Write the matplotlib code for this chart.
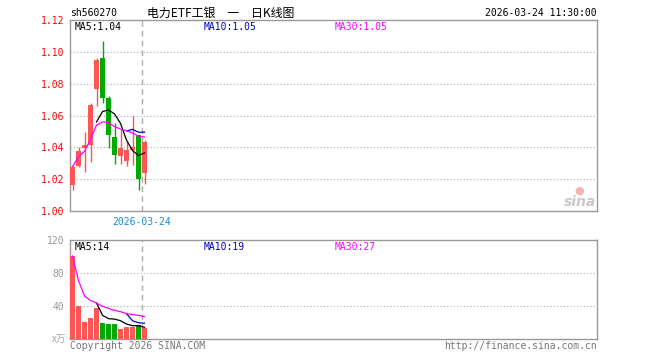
import matplotlib
matplotlib.use("Agg")
import matplotlib.pyplot as plt

# ================================
# Data
# ================================

CODE = "sh560270"
TITLE = "电力ETF工银　一　日K线图"
STAMP = "2026-03-24 11:30:00"
LAST_DATE = "2026-03-24"

opens = [1.0164, 1.0281, 1.0396, 1.0416, 1.0769, 1.0964, 1.0710, 1.0464, 1.0348, 1.0316, 1.0381, 1.0477, 1.0238]
closes = [1.0275, 1.0377, 1.0414, 1.0664, 1.0946, 1.0713, 1.0479, 1.0354, 1.0396, 1.0383, 1.0404, 1.0198, 1.0435]
highs = [1.0280, 1.0400, 1.0494, 1.0680, 1.0964, 1.1066, 1.0722, 1.0552, 1.0514, 1.0431, 1.0595, 1.0480, 1.0446]
lows = [1.0129, 1.0275, 1.0244, 1.0306, 1.0660, 1.0680, 1.0394, 1.0296, 1.0296, 1.0285, 1.0290, 1.0129, 1.0170]

# price moving averages (first index where each line starts)
ma5_start, ma10_start = 4, 9
ma5_px = [1.0560, 1.0625, 1.0635, 1.0610, 1.0550, 1.0445, 1.0380, 1.0348, 1.0365]
ma10_px = [1.0503, 1.0513, 1.0495, 1.0495]
ma30_px = [1.0280, 1.0340, 1.0375, 1.0450, 1.0540, 1.0560, 1.0555, 1.0530, 1.0515, 1.0505, 1.0490, 1.0470, 1.0464]

volumes = [101, 40.7, 21, 25.8, 37.9, 19.8, 18.5, 18.5, 12.2, 14.6, 14.6, 17.0, 13.5]
ma5_vol = [44, 29, 25, 24.5, 22.5, 18.5, 16.5, 16.5, 14.5]
ma10_vol = [31, 22.5, 20, 19.5]
ma30_vol = [101, 71, 52.5, 47, 44, 40, 37.5, 35, 33.5, 31, 30, 29, 27.5]

price_ticks = [1.00, 1.02, 1.04, 1.06, 1.08, 1.10, 1.12]
vol_ticks = [40, 80, 120]

ma_labels_px = ["MA5:1.04", "MA10:1.05", "MA30:1.05"]
ma_labels_vol = ["MA5:14", "MA10:19", "MA30:27"]

# ================================
# Style
# ================================

RED = "#ff5555"
GREEN = "#00aa00"
BORDER = "#999999"
MONO = "DejaVu Sans Mono"
FS = 7
W, H = 660, 360

plt.rcParams["font.family"] = ["DejaVu Sans Mono", "Noto Sans CJK SC"]

fig = plt.figure(figsize=(W / 100, H / 100), dpi=100)


def fx(px):
    return px / W


def fy(py):
    return 1 - py / H


ax = fig.add_axes([fx(70), fy(211), fx(597) - fx(70), fy(20) - fy(211)])
axv = fig.add_axes([fx(70), fy(339.3), fx(597) - fx(70), fy(240.3) - fy(339.3)])

XLIM = (-0.42, 87.4)
DASH_X = 11.6

for a in (ax, axv):
    a.set_xlim(*XLIM)
    a.set_xticks([])
    for s in a.spines.values():
        s.set_color(BORDER)
        s.set_linewidth(1.0)
    a.tick_params(axis="y", length=0, pad=4, labelsize=FS)
    a.axvline(DASH_X, color="#aaaaaa", lw=1.0, ls=(0, (4, 3)), zorder=1)

# -------- candles --------
idx = list(range(len(opens)))
colors = [RED if c >= o else GREEN for o, c in zip(opens, closes)]
ax.vlines(idx, lows, highs, colors=colors, lw=1.0, zorder=2)
bottoms = [min(o, c) for o, c in zip(opens, closes)]
heights = [max(abs(c - o), 0.0004) for o, c in zip(opens, closes)]
ax.bar(idx, heights, bottom=bottoms, width=0.83, color=colors, lw=0, zorder=3)

ax.plot(range(ma5_start, ma5_start + len(ma5_px)), ma5_px, color="black", lw=0.9, zorder=4)
ax.plot(range(ma10_start, ma10_start + len(ma10_px)), ma10_px, color="#0000cc", lw=0.9, zorder=4)
ax.plot(range(len(ma30_px)), ma30_px, color="#ff00ff", lw=0.9, zorder=4)

ax.set_ylim(1.00, 1.12)
ax.set_yticks(price_ticks)
ax.set_yticklabels([f"{t:.2f}" for t in price_ticks], color="#ff0000", family=MONO)
for t in price_ticks[1:-1]:
    ax.axhline(t, color="#aaaaaa", lw=0.8, ls=(0, (1, 2)), zorder=0)

# -------- volume --------
axv.bar(idx, volumes, width=0.78, color=colors, lw=0, zorder=3)
axv.plot(range(ma5_start, ma5_start + len(ma5_vol)), ma5_vol, color="black", lw=0.9, zorder=4)
axv.plot(range(ma10_start, ma10_start + len(ma10_vol)), ma10_vol, color="#0000cc", lw=0.9, zorder=4)
axv.plot(range(len(ma30_vol)), ma30_vol, color="#ff00ff", lw=0.9, zorder=4)
axv.set_ylim(0, 120)
axv.set_yticks(vol_ticks)
axv.set_yticklabels([str(t) for t in vol_ticks], color="#999999", family=MONO)
for t in vol_ticks[:-1]:
    axv.axhline(t, color="#aaaaaa", lw=0.8, ls=(0, (1, 2)), zorder=0)

# -------- texts --------
ma_colors = ["black", "#0000cc", "#ff00ff"]
ma_x = [74.5, 204, 334.5]
for lbl, c, x in zip(ma_labels_px, ma_colors, ma_x):
    fig.text(fx(x), fy(29.5), lbl, color=c, fontsize=FS, family=MONO, va="baseline")
for lbl, c, x in zip(ma_labels_vol, ma_colors, ma_x):
    fig.text(fx(x), fy(249.5), lbl, color=c, fontsize=FS, family=MONO, va="baseline")

fig.text(fx(70), fy(16.5), CODE, fontsize=FS, family=MONO, va="baseline")
fig.text(fx(147), fy(16.5), TITLE, fontsize=8.6,
         family=["Noto Sans CJK SC", "DejaVu Sans"], va="baseline")
fig.text(fx(597), fy(16.5), STAMP, fontsize=FS, family=MONO, va="baseline", ha="right")

fig.text(fx(141.5), fy(225), LAST_DATE, fontsize=FS, family=MONO, va="baseline",
         ha="center", color="#1a88d0")

fig.text(fx(66), fy(342), "x万", fontsize=FS, color="#aaaaaa", ha="right", va="baseline",
         style="italic", family=["Noto Sans CJK SC", "DejaVu Sans"])
fig.text(fx(70), fy(349), "Copyright 2026 SINA.COM", fontsize=FS, family=MONO,
         color="#777777", va="baseline")
fig.text(fx(597), fy(349), "http://finance.sina.com.cn", fontsize=FS, family=MONO,
         color="#777777", va="baseline", ha="right")

# sina watermark
fig.text(fx(596), fy(206), "sina", fontsize=10, color="#c8c8c8", style="italic",
         weight="bold", family="DejaVu Sans", ha="right", va="baseline")
fig.text(fx(579), fy(194), "●", fontsize=8, color="#f5b5b5", ha="center", va="baseline",
         family="DejaVu Sans")

fig.savefig("out.png", dpi=100)
